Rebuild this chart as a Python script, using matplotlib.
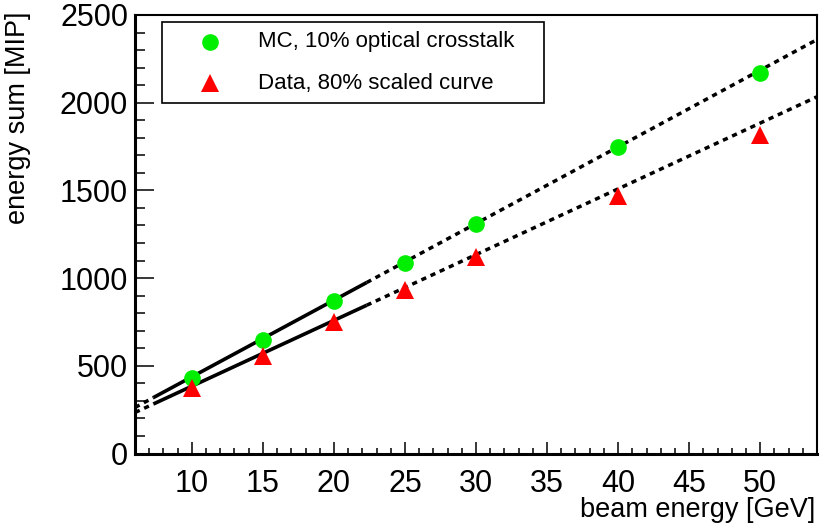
import matplotlib
matplotlib.use("Agg")
import matplotlib.pyplot as plt
from matplotlib.patches import Rectangle
from matplotlib.ticker import MultipleLocator
import numpy as np

plt.rcParams['font.family'] = ['Liberation Sans', 'DejaVu Sans']

# ---- data ----
beam_energy = [10, 15, 20, 25, 30, 40, 50]
mc_sum = [429, 647, 871, 1088, 1308, 1749, 2171]
data_sum = [371, 554, 750, 934, 1120, 1468, 1814]

# linear fit parameters (slope, intercept) and fit range
mc_fit = (43.7, 0.0)
data_fit = (37.5, 8.7)
fit_range = (7.3, 22.3)
x_range = (6, 54)
y_range = (0, 2500)

legend_labels = ["MC, 10% optical crosstalk", "Data, 80% scaled curve"]
x_label = "beam energy [GeV]"
y_label = "energy sum [MIP]"

W, H = 819, 526
fig = plt.figure(figsize=(W / 100, H / 100), dpi=100)
L, R, T, B = 135, 817, 15, 453.5
ax = fig.add_axes([L / W, (H - B) / H, (R - L) / W, (B - T) / H])

def draw_fit(params):
    a, b = params
    xs_solid = np.array(fit_range)
    ax.plot(xs_solid, a * xs_solid + b, color='black', lw=2.6, solid_capstyle='butt', zorder=2)
    for seg in [(x_range[0], fit_range[0]), (fit_range[1], x_range[1])]:
        xs = np.array(seg)
        ln, = ax.plot(xs, a * xs + b, color='black', lw=2.5, zorder=2)
        ln.set_dashes((1.5, 1.4))
        ln.set_dash_capstyle('butt')

draw_fit(mc_fit)
draw_fit(data_fit)

ax.plot(beam_energy, mc_sum, 'o', color='#00ee00', ms=12, mew=0, zorder=3)
ax.plot(beam_energy, data_sum, '^', color='#ff0000', ms=12.5, mew=0, zorder=3)

ax.set_xlim(*x_range)
ax.set_ylim(*y_range)
ax.xaxis.set_major_locator(MultipleLocator(5))
ax.xaxis.set_minor_locator(MultipleLocator(1))
ax.yaxis.set_major_locator(MultipleLocator(500))
ax.yaxis.set_minor_locator(MultipleLocator(100))

ax.tick_params(axis='both', which='both', direction='in', top=False, right=False, width=1.1, color='black')
ax.tick_params(axis='y', which='major', length=14, pad=5, labelsize=22)
ax.tick_params(axis='y', which='minor', length=7)
ax.tick_params(axis='x', which='major', length=8.6, pad=11, labelsize=22)
ax.tick_params(axis='x', which='minor', length=4.3)
ax.set_xticks([10, 15, 20, 25, 30, 35, 40, 45, 50])

for s in ['left', 'bottom']:
    ax.spines[s].set_linewidth(2.2)
for s in ['top', 'right']:
    ax.spines[s].set_linewidth(1.5)

# legend box
def px2ax(px, py):
    return (px - L) / (R - L), (B - py) / (B - T)

x0, y0 = px2ax(162, 102.7)
x1, y1 = px2ax(544, 21.7)
ax.add_patch(Rectangle((x0, y0), x1 - x0, y1 - y0, transform=ax.transAxes,
                       fill=True, facecolor='white', edgecolor='black', lw=1.2, zorder=5))
mx, my1 = px2ax(210, 41.7)
_, my2 = px2ax(210, 83.3)
tx, _ = px2ax(258, 0)
ax.plot([mx], [my1], 'o', color='#00ee00', ms=12, mew=0, transform=ax.transAxes, zorder=6, clip_on=False)
ax.plot([mx], [my2], '^', color='#ff0000', ms=12.5, mew=0, transform=ax.transAxes, zorder=6, clip_on=False)
ax.text(tx, my1, legend_labels[0], transform=ax.transAxes, fontsize=16, va='center', ha='left', zorder=6)
ax.text(tx, my2, legend_labels[1], transform=ax.transAxes, fontsize=16, va='center', ha='left', zorder=6)

fig.text(815 / W, 1 - 523 / H, x_label, fontsize=19.5, ha='right', va='bottom')
fig.text(18 / W, 1 - 12 / H, y_label, fontsize=19.5, ha='center', va='top', rotation=90)

fig.savefig('out.png', dpi=100)
